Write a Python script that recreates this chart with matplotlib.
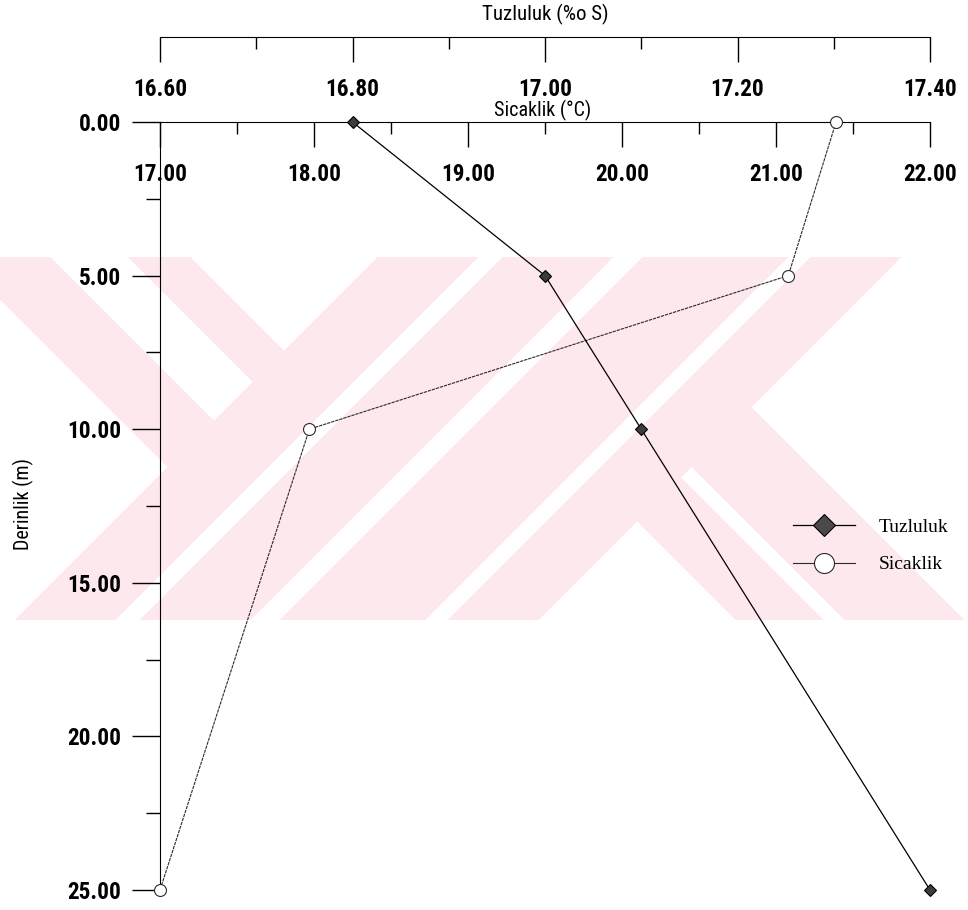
import numpy as np
import matplotlib
matplotlib.use("Agg")
import matplotlib.pyplot as plt
from matplotlib import font_manager as fm
from matplotlib.lines import Line2D
from matplotlib.ticker import FixedLocator, FormatStrFormatter

# ---- data -------------------------------------------------------------
depth = [0, 5, 10, 25]                       # Derinlik (m)
tuzluluk = [16.80, 17.00, 17.10, 17.40]      # Tuzluluk (%o S)
sicaklik = [21.39, 21.08, 17.97, 17.00]      # Sicaklik (°C)

sal_major = [16.6, 16.8, 17.0, 17.2, 17.4]
sal_minor = [16.7, 16.9, 17.1, 17.3]
temp_major = [17, 18, 19, 20, 21, 22]
temp_minor = [17.5, 18.5, 19.5, 20.5, 21.5]
depth_major = [0, 5, 10, 15, 20, 25]
depth_minor = [2.5, 7.5, 12.5, 17.5, 22.5]

# ---- fonts: prefer a narrow sans for the axis text -----------------------
entries = fm.fontManager.ttflist
names = {f.name for f in entries}


def pick_narrow():
    for fam in ("Liberation Sans Narrow", "Roboto Condensed", "Open Sans Condensed"):
        if fam in names:
            return fam, "normal"
    for fam in ("DejaVu Sans", "Roboto", "Open Sans", "Noto Sans"):
        for f in entries:
            if f.name == fam and str(f.stretch) in ("condensed", "semi-condensed"):
                return fam, str(f.stretch)
    return "Liberation Sans", "normal"


NARROW, STRETCH = pick_narrow()
SERIF = "Liberation Serif"
plt.rcParams["font.family"] = [NARROW, "DejaVu Sans"]
plt.rcParams["font.stretch"] = STRETCH

W, H = 968, 910
PT = 72 / 100  # points per pixel at dpi=100

fig = plt.figure(figsize=(W / 100, H / 100), dpi=100)
fig.patch.set_facecolor("white")
renderer = fig.canvas.get_renderer()


def fit_size(sample, target_px, **kw):
    t = fig.text(0, 0, sample, fontsize=10, **kw)
    w = t.get_window_extent(renderer).width
    t.remove()
    return 10 * target_px / w


TICK_W = "bold"
TICK_FS = min(fit_size("18.00", 54, fontweight=TICK_W), 19.5)
T1_FS = fit_size("Tuzluluk (%o S)", 127)
T2_FS = fit_size("Sicaklik (°C)", 97)
YL_FS = fit_size("Derinlik (m)", 92)

# ---- pale background emblem -------------------------------------------
ys, xs = np.mgrid[0:H, 0:W].astype(float) + 0.5
u = xs - ys
v = xs + ys
band = (ys >= 257) & (ys <= 620)


def vs(a, b):
    return (v >= a) & (v <= b)


def us(a, b):
    return (u >= a) & (u <= b)


pink = (vs(635, 735) | vs(760, 870) | vs(900, 1045) | vs(1068, 1158)
        | ((us(-299, -207) | us(-129, -67)) & (v < 635))
        | ((us(116, 203) | us(225, 344)) & (v > 1158)))
pink &= band
emblem = np.zeros((H, W, 4))
emblem[pink] = (253 / 255, 232 / 255, 238 / 255, 1.0)
fig.figimage(emblem, xo=0, yo=0, origin="upper", zorder=-10)

# ---- axes ---------------------------------------------------------------
x0, x1, y0, y1 = 160, 930, 122, 890
ax = fig.add_axes([x0 / W, 1 - y1 / H, (x1 - x0) / W, (y1 - y0) / H])
ax2 = ax.twiny()                     # salinity scale, on its own spine above
for a in (ax, ax2):
    a.patch.set_visible(False)

TOP_PAD = -(36.4 + 0.57 * TICK_FS)

# temperature scale along depth 0
ax.set_xlim(17, 22)
ax.set_ylim(25, 0)
for s in ("right", "bottom"):
    ax.spines[s].set_visible(False)
ax.xaxis.tick_top()
ax.xaxis.set_major_locator(FixedLocator(temp_major))
ax.xaxis.set_minor_locator(FixedLocator(temp_minor))
ax.xaxis.set_major_formatter(FormatStrFormatter("%.2f"))
ax.tick_params(axis="x", which="major", direction="in", length=25 * PT, width=1.0,
               pad=TOP_PAD, labelsize=TICK_FS, top=True, bottom=False,
               labeltop=True, labelbottom=False)
ax.tick_params(axis="x", which="minor", direction="in", length=12 * PT, width=1.0,
               top=True, bottom=False)

ax.yaxis.set_major_locator(FixedLocator(depth_major))
ax.yaxis.set_minor_locator(FixedLocator(depth_minor))
ax.yaxis.set_major_formatter(FormatStrFormatter("%.2f"))
ax.tick_params(axis="y", which="major", direction="out", length=28 * PT, width=1.0,
               pad=8, labelsize=TICK_FS, left=True, right=False)
ax.tick_params(axis="y", which="minor", direction="out", length=14 * PT, width=1.0,
               left=True, right=False)

# salinity scale
ax2.set_xlim(16.6, 17.4)
ax2.set_ylim(25, 0)
for s in ("right", "bottom", "left"):
    ax2.spines[s].set_visible(False)
ax2.spines["top"].set_position(("axes", 1 + (y0 - 37) / (y1 - y0)))
ax2.xaxis.set_major_locator(FixedLocator(sal_major))
ax2.xaxis.set_minor_locator(FixedLocator(sal_minor))
ax2.xaxis.set_major_formatter(FormatStrFormatter("%.2f"))
ax2.tick_params(axis="x", which="major", direction="in", length=25 * PT, width=1.0,
                pad=TOP_PAD, labelsize=TICK_FS)
ax2.tick_params(axis="x", which="minor", direction="in", length=12 * PT, width=1.0)

for lab in (ax.get_xticklabels() + ax.get_yticklabels() + ax2.get_xticklabels()):
    lab.set_fontweight(TICK_W)

# ---- profiles ---------------------------------------------------------
ax.plot(sicaklik, depth, color="#2a2a2a", lw=0.8, ls=(0, (3, 0.8)),
        marker="o", ms=8.6, mfc="white", mec="#2a2a2a", mew=0.8,
        clip_on=False, zorder=3)
ax2.plot(tuzluluk, depth, color="black", lw=0.9,
         marker="D", ms=6.1, mfc="#3c3c3c", mec="black", mew=0.8,
         clip_on=False, zorder=4)

# ---- axis titles ------------------------------------------------------
fig.text(545 / W, 1 - 14 / H, "Tuzluluk (%o S)", ha="center", va="center", fontsize=T1_FS)
fig.text(543 / W, 1 - 110 / H, "Sicaklik (°C)", ha="center", va="center", fontsize=T2_FS)
fig.text(23 / W, 1 - 504 / H, "Derinlik (m)", ha="center", va="center",
         rotation=90, fontsize=YL_FS)

# ---- legend -----------------------------------------------------------
handles = [
    Line2D([], [], color="black", lw=0.9, marker="D", ms=11.2,
           mfc="#4a4a4a", mec="black", mew=0.8),
    Line2D([], [], color="#2a2a2a", lw=0.8, marker="o", ms=14.4,
           mfc="white", mec="#2a2a2a", mew=0.8),
]
leg = fig.legend(handles, ["Tuzluluk", "Sicaklik"], loc="center left",
                 bbox_to_anchor=(793 / W, 1 - 546 / H), bbox_transform=fig.transFigure,
                 frameon=False, borderpad=0, borderaxespad=0,
                 handlelength=3.2, handletextpad=1.2, labelspacing=1.0,
                 prop={"family": SERIF, "size": 14})

fig.savefig("out.png", dpi=100)
